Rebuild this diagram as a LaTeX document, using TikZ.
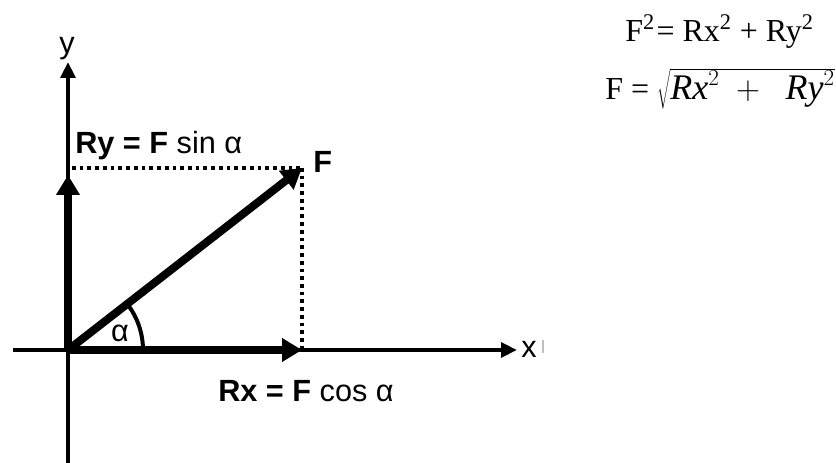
\documentclass[tikz,border=0pt]{standalone}
\usepackage{fontspec}
\setmainfont{Liberation Serif}
\setsansfont{Liberation Sans}
\usetikzlibrary{arrows.meta}

\begin{document}
\begin{tikzpicture}[x=0.75pt,y=0.75pt,
  axis/.style={line width=3.4pt,-{Triangle[length=12pt,width=11pt]}},
  vec/.style={line width=6pt,-{Triangle[length=15pt,width=17pt]}},
  guide/.style={line width=3pt,dash pattern=on 2.8pt off 3pt},
  lbl/.style={font=\sffamily\fontsize{23}{27}\selectfont,inner sep=0pt},
  eq/.style={font=\fontsize{24}{28}\selectfont,inner sep=0pt}]
  \useasboundingbox (-68,-113) rectangle (768,350);
  % origin, tips of the axes and of the force
  \coordinate (O) at (0,0);
  \coordinate (ybot) at (0,-113);
  \coordinate (ytop) at (0,288);
  \coordinate (xleft) at (-55,0);
  \coordinate (xtip) at (449,0);
  \coordinate (F) at (234,182);
  \coordinate (Fx) at (234,0);
  \coordinate (Fy) at (4,182);
  \coordinate (Ry) at (0,175);
  % axes
  \draw[axis] (ybot) -- (ytop);
  \draw[axis] (xleft) -- (xtip);
  \node[lbl,anchor=south] (ylab) at (-1,290) {y};
  \node[lbl] (xlab) at (461,1) {x};
  \draw[gray!50,line width=1.4pt] (475,10) -- (475,-3);
  % projections
  \draw[guide] (Fy) -- (F);
  \draw[guide] (F) -- (Fx);
  % components and force
  \draw[vec] (O) -- (Fx);
  \draw[vec] (O) -- (Ry);
  \draw[vec] (O) -- (F);
  \draw[line width=3pt] (75,0) arc[start angle=0,end angle=37.9,radius=75];
  \node[lbl] (alab) at (52,17) {α};
  \node[lbl,anchor=base west] (flab) at (245,177) {\bfseries F};
  \node[lbl,anchor=base west] (rylab) at (7,196) {\bfseries Ry = F\mdseries{} sin α};
  \node[lbl,anchor=base west] (rxlab) at (150,-52) {\bfseries Rx = F\mdseries{} cos α};
  % formulas
  \node[eq,anchor=base west] (eqa) at (557,308)
    {F\textsuperscript{2}\kern0.05em= Rx\textsuperscript{2} + Ry\textsuperscript{2}};
  \node[eq,anchor=base west] (eqb) at (537,250)
    {F = {\fontsize{27}{30}\selectfont$\sqrt{\mathit{Rx}^{2}\;+\;\ \mathit{Ry}^{2}}$}};
\end{tikzpicture}
\end{document}
